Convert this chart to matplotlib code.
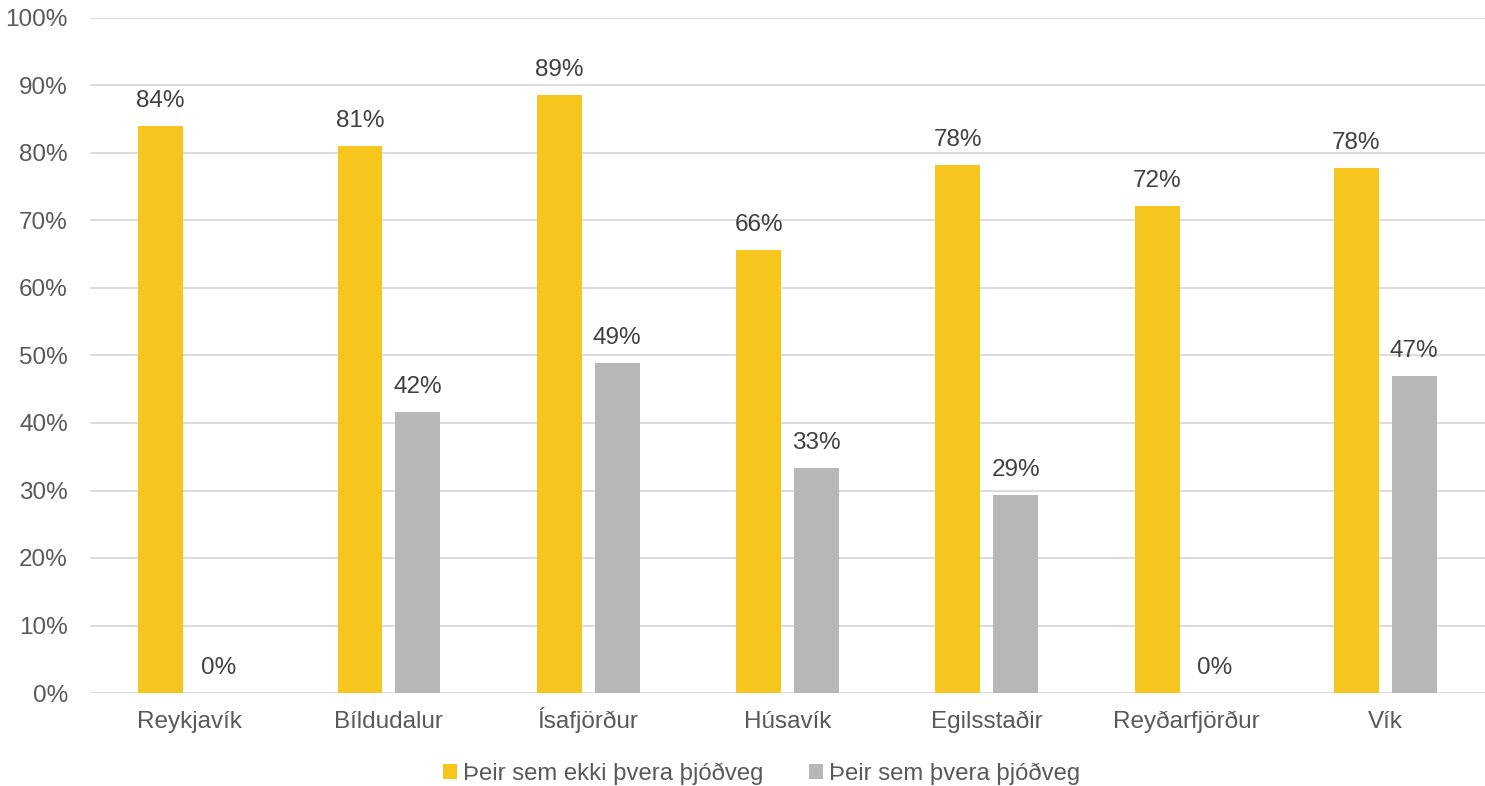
import numpy as np
import matplotlib.pyplot as plt
from matplotlib.ticker import PercentFormatter

plt.rcParams['font.family'] = ['Liberation Sans', 'DejaVu Sans']

#----- Data ------------------------------------------------------------------------------------

towns = ["Reykjavík", "Bíldudalur", "Ísafjörður", "Húsavík", "Egilsstaðir", "Reyðarfjörður", "Vík"]
ekki_thvera = [84, 81, 88.6, 65.7, 78.2, 72.2, 77.8]
thvera = [0, 41.6, 48.9, 33.3, 29.4, 0, 47.0]
series_names = ["Þeir sem ekki þvera þjóðveg", "Þeir sem þvera þjóðveg"]

yellow = "#F6C61E"
grey = "#B7B7B7"

#----- Plot ------------------------------------------------------------------------------------

fig = plt.figure(figsize=(14.85, 7.86), dpi=100)
ax = fig.add_axes([90/1485, 1-693/786, 1-90/1485, (693-18)/786])

x = np.arange(len(towns))
w = 0.225
off = 0.145

b1 = ax.bar(x - off, ekki_thvera, w, color=yellow, label=series_names[0], zorder=3)
b2 = ax.bar(x + off, thvera, w, color=grey, label=series_names[1], zorder=3)

for bars, vals in [(b1, ekki_thvera), (b2, thvera)]:
    for rect, v in zip(bars, vals):
        ax.annotate(f"{v:.0f}%", (rect.get_x() + rect.get_width()/2, v),
                    xytext=(0, 14), textcoords="offset pixels",
                    ha="center", va="bottom", fontsize=17.5, color="#404040")

ax.set_xlim(-0.5, len(towns) - 0.5)
ax.set_ylim(0, 100)
ax.set_yticks(np.arange(0, 101, 10))
ax.yaxis.set_major_formatter(PercentFormatter(decimals=0))
ax.set_xticks(x)
ax.set_xticklabels(towns)
ax.grid(axis="y", color="#D9D9D9", linewidth=1.3, zorder=0)
for s in ax.spines.values():
    s.set_visible(False)
ax.tick_params(axis="both", length=0, labelsize=17.5, labelcolor="#595959")
ax.tick_params(axis="x", pad=25.5)
ax.tick_params(axis="y", pad=16)
for lbl in ax.get_xticklabels():
    lbl.set_verticalalignment("baseline")

fig.legend(loc="lower center", bbox_to_anchor=(0.513, -0.026), ncol=2, frameon=False,
           fontsize=17.2, labelcolor="#595959", handlelength=0.6, handleheight=0.6,
           handletextpad=0.25, columnspacing=1.9)

fig.savefig("out.png", dpi=100)
